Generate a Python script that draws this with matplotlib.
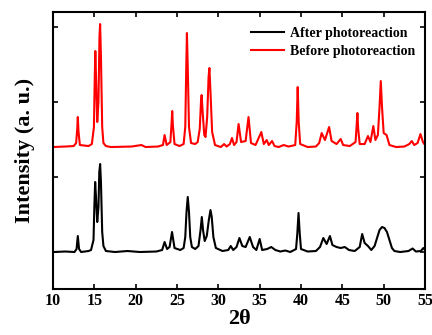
import matplotlib
matplotlib.use('Agg')
from matplotlib import pyplot as plt

plt.rcParams['font.family'] = ['Liberation Serif', 'DejaVu Serif']
plt.rcParams['font.weight'] = 'bold'

# traced vertices, intensity above each pattern's own baseline (a. u.)
after_x = [10.0, 11.5, 12.6, 12.85, 13.0, 13.15, 13.4, 14.3,
           14.6, 14.9, 15.0, 15.1, 15.2, 15.35, 15.5, 15.6, 15.7, 15.8, 15.95, 16.1, 16.4,
           17.5, 19.0, 20.5, 22.5, 23.2, 23.5, 23.8, 24.1, 24.4, 24.7, 25.4,
           25.8, 26.0, 26.15, 26.3, 26.45, 26.6, 26.8,
           27.2, 27.6, 27.85, 28.0, 28.15, 28.35, 28.6, 28.85, 29.05, 29.2, 29.4, 29.7,
           30.5, 31.2, 31.5, 31.8, 32.2, 32.55, 32.9, 33.3, 33.8, 34.2, 34.6, 35.0, 35.3,
           35.9, 36.4, 36.9, 37.5, 38.1, 38.7,
           39.4, 39.55, 39.7, 39.85, 40.0,
           40.8, 41.8, 42.3, 42.7, 43.1, 43.5, 43.8, 44.3, 44.8, 45.3, 45.8, 46.5,
           47.1, 47.4, 47.7, 48.1, 48.5,
           48.9, 49.2, 49.5, 49.8, 50.1, 50.4, 50.7, 51.0, 51.3,
           52.0, 53.0, 53.5, 53.9, 54.5, 54.8, 55.0]
after_y = [0, 0.5, 0, 3, 16, 3, 0, 1,
           2, 12, 45, 70, 55, 30, 45, 80, 88, 70, 20, 6, 1,
           0, 1, 0, 0.5, 2, 10, 3, 5, 20, 4, 2,
           4, 15, 40, 55, 40, 15, 5,
           3, 6, 22, 35, 22, 11, 16, 32, 42, 35, 15, 4,
           1, 2, 6, 2, 5, 14, 6, 5, 15, 5, 2, 13, 2,
           3, 5, 2, 0.5, 1.5, 0,
           3, 18, 39, 18, 3,
           0.5, 1, 5, 14, 8, 16, 7, 5, 4, 5, 2, 1,
           5, 18, 9, 6, 2,
           6, 14, 22, 25, 24, 20, 12, 4, 1,
           0, 1, 3.5, 0.5, 1, 4, 2]

before_x = [10.0, 11.5, 12.5, 12.8, 12.93, 13.0, 13.08, 13.25, 14.3,
            14.7, 14.95, 15.05, 15.12, 15.22, 15.35, 15.5, 15.62, 15.7, 15.8, 15.95, 16.1, 16.4,
            17.0, 19.5, 20.7, 21.2, 22.7, 23.3, 23.5, 23.75,
            24.2, 24.35, 24.42, 24.5, 24.7, 25.3,
            25.8, 26.0, 26.12, 26.2, 26.3, 26.45, 26.7,
            27.2, 27.5, 27.75, 27.9, 27.98, 28.1, 28.3, 28.45, 28.65, 28.82, 28.92, 29.05, 29.25, 29.6,
            30.3, 30.7, 31.0, 31.4, 31.65, 31.9, 32.2, 32.45, 32.75, 33.3, 33.65, 33.95, 34.5,
            35.2, 35.5, 35.85, 36.1, 36.5, 36.8, 37.3, 37.9, 38.5,
            39.3, 39.48, 39.6, 39.72, 39.9,
            40.8, 41.8, 42.2, 42.5, 42.9, 43.4, 43.7, 44.3, 44.8, 45.1, 45.9,
            46.6, 46.72, 46.82, 46.92, 47.1,
            47.7, 48.1, 48.4, 48.75, 49.0,
            49.3, 49.5, 49.65, 49.8, 50.0, 50.35, 50.7,
            51.5, 52.5, 53.1, 53.4, 53.7, 54.1, 54.45, 54.75, 55.0]
before_y = [0, 0.5, 1, 4, 18, 30, 16, 2, 1,
            3, 20, 70, 96, 65, 25, 45, 110, 123, 90, 20, 4, 1,
            0, 0.5, 2, 0, 0.5, 2, 12, 2,
            5, 25, 36, 22, 3, 1,
            3, 20, 80, 114, 80, 20, 4,
            3, 5, 18, 45, 52, 35, 12, 10, 30, 70, 79, 55, 15, 2,
            0, 3, 0.5, 3, 9, 2, 5, 23, 5, 6, 30, 4, 2,
            15, 3, 7, 2, 6, 1, 0, 2, 0.5,
            2, 25, 60, 25, 3,
            0, 0.5, 4, 14, 7, 20, 6, 3, 8, 2, 1,
            5, 20, 34, 18, 3,
            3, 11, 5, 21, 7,
            12, 40, 66, 40, 14, 12, 2,
            0, 0.5, 3, 6, 2, 4, 13, 5, 2]

offset = 105

fig = plt.figure(figsize=(4.32, 3.35), dpi=100)
ax = fig.add_axes([0.1227, 0.1373, 0.8611, 0.8267])

ax.plot(after_x, after_y, color='black', lw=1.5, label='After photoreaction')
ax.plot(before_x, [v + offset for v in before_y], color='red', lw=1.5, label='Before photoreaction')

ax.set_xlim(10, 55)
ax.set_ylim(-37, 240)
ax.set_xticks(range(10, 56, 5))
ax.set_yticks([0, 75, 150, 225])
ax.set_yticklabels([])
ax.tick_params(direction='in', top=True, right=True, length=3.5, width=1.2, labelsize=11.5, pad=3)
for lab in ax.get_xticklabels():
    lab.set_fontweight('bold')
for s in ax.spines.values():
    s.set_linewidth(1.5)

ax.set_xlabel('2θ', fontsize=16, fontweight='bold', labelpad=0)
ax.set_ylabel('Intensity (a. u.)', fontsize=16, fontweight='bold', labelpad=10)

leg = ax.legend(loc='upper right', frameon=False, fontsize=10, handlelength=2.4,
                handletextpad=0.4, labelspacing=0.35, borderaxespad=0.3,
                bbox_to_anchor=(1.0, 0.98))
for t in leg.get_texts():
    t.set_fontweight('bold')

fig.savefig('out.png', dpi=100)
